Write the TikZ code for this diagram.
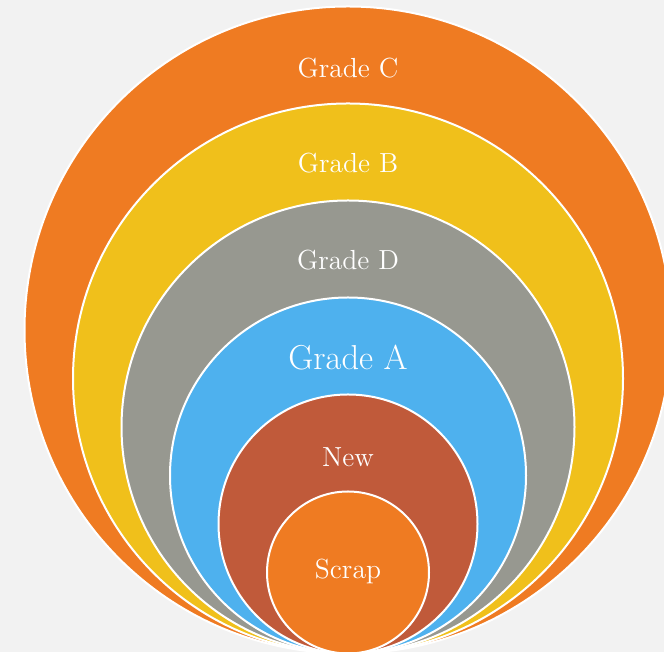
\documentclass[tikz,border=0pt]{standalone}
\definecolor{bgpage}{HTML}{F2F2F2}
\definecolor{ringorange}{HTML}{EF7B22}
\definecolor{ringyellow}{HTML}{F0C01B}
\definecolor{ringgray}{HTML}{979890}
\definecolor{ringblue}{HTML}{4EB1EE}
\definecolor{ringbrown}{HTML}{C05A3A}
\begin{document}
\begin{tikzpicture}[x=0.5pt,y=0.5pt,
		ring/.style={draw=white,line width=1pt},
		lbl/.style={text=white,font=\fontsize{13.8}{16}\selectfont}]
		\fill[bgpage] (0,0) rectangle (664,652);
		\useasboundingbox (0,0) rectangle (664,652);
		\begin{scope}
		\clip (0,0) rectangle (664,652);
		\draw[ring,fill=ringorange] (348,322) circle (323.5);
		\draw[ring,fill=ringyellow] (348,273.5) circle (275);
		\draw[ring,fill=ringgray] (348,225) circle (226.5);
		\draw[ring,fill=ringblue] (348,176.5) circle (178);
		\draw[ring,fill=ringbrown] (348,128) circle (129.5);
		\draw[ring,fill=ringorange] (348,79.5) circle (81);
		\end{scope}
		\node[lbl] (gradeC) at (348,584) {Grade C};
		\node[lbl] (gradeB) at (348,489) {Grade B};
		\node[lbl] (gradeD) at (348,392) {Grade D};
		\node[lbl,font=\fontsize{17.3}{20}\selectfont] (gradeA) at (348,294) {Grade A};
		\node[lbl] (new) at (348,195) {New};
		\node[lbl] (scrap) at (348,81) {Scrap};
\end{tikzpicture}
\end{document}
